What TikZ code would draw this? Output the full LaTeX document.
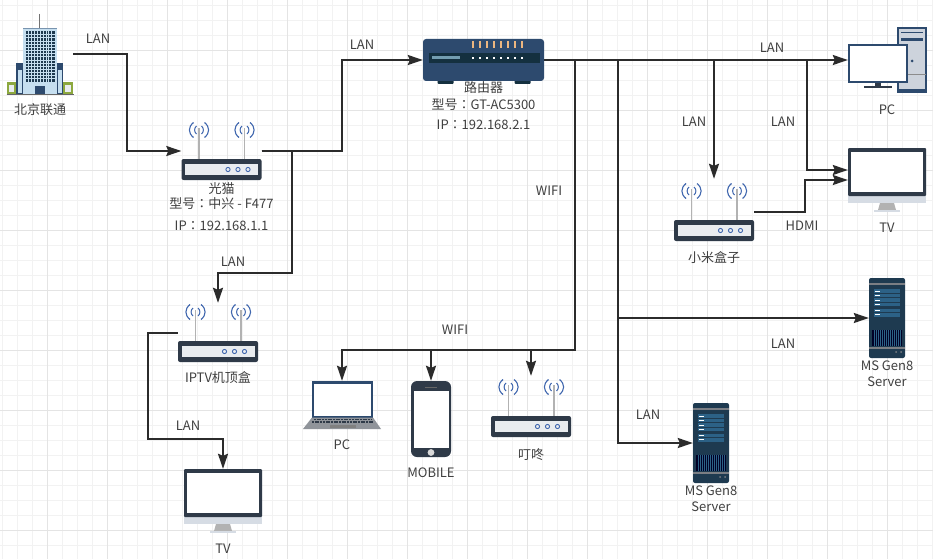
\documentclass[tikz,border=0pt]{standalone}
\usepackage{fontspec}
\setmainfont{Noto Sans CJK SC}
\newfontfamily\colonfont{Noto Sans CJK TC}
\newcommand{\fullcolon}{{\colonfont：}}
\usetikzlibrary{arrows.meta, positioning}
\definecolor{gridminor}{HTML}{F2F2F2}
\definecolor{gridmajor}{HTML}{E4E4E4}
\definecolor{wire}{HTML}{2B2B2B}
\definecolor{textgrey}{HTML}{404040}
\definecolor{shell}{HTML}{2F3A48}
\definecolor{panel}{HTML}{E9ECEF}
\definecolor{wave}{HTML}{3F66AE}
\definecolor{navy}{HTML}{2D4A6E}
\definecolor{deep}{HTML}{14303F}
\definecolor{srv}{HTML}{1E3A50}
\definecolor{srvrow}{HTML}{2C6186}
\definecolor{steel}{HTML}{CDD3DC}
\definecolor{chin}{HTML}{D6DCE4}
\definecolor{glass}{HTML}{C6DFF0}
\definecolor{olive}{HTML}{8CA83E}
\tikzset{
    dev/.style 2 args={minimum width=#1, minimum height=#2, inner sep=0pt},
    capt/.style={inner sep=0pt, align=center, text=textgrey, font=\fontsize{13}{16}\selectfont},
    wires/.style={draw=wire, line width=1.8pt, ->},
    waves/.pic={
        \draw[wave, line width=1.1pt] (-5.5,-7.5) .. controls (-11,-3) and (-11,3) .. (-5.5,7.5);
        \draw[wave, line width=1.1pt] (5.5,-7.5) .. controls (11,-3) and (11,3) .. (5.5,7.5);
        \draw[wave, line width=1pt] (-2.5,-4) .. controls (-5,-2) and (-5,2) .. (-2.5,4);
        \draw[wave, line width=1pt] (2.5,-4) .. controls (5,-2) and (5,2) .. (2.5,4);
    },
    wifibox/.pic={
        \pic at (-22.5,-21) {waves};
        \pic at (23,-21) {waves};
        \draw[black!30, line width=1.1pt] (-22.5,-23) -- (-22.5,9);
        \draw[black!30, line width=1.1pt] (23,-23) -- (23,9);
        \fill[shell, rounded corners=2pt] (-40,8) rectangle (40,29);
        \fill[panel] (-36.5,13) rectangle (36.5,24);
        \foreach \dx in {6.5,16.5,26.5}
            \draw[wave, line width=.9pt] (\dx,18.5) circle (2.1);
    },
    routerbox/.pic={
        \fill[deep, rounded corners=1pt] (-46,18) rectangle (-30,24);
        \fill[deep, rounded corners=1pt] (31,18) rectangle (47,24);
        \fill[navy, rounded corners=3pt] (-60.5,-21) rectangle (60.5,21);
        \fill[deep] (-55,-7) rectangle (56,3);
        \fill[black!10!cyan!40!gray] (-52,-3.5) rectangle (-24,-1);
        \foreach \i in {0,...,7} {
            \fill[white] (-11.5+7*\i,-3) rectangle ++(1.7,1.7);
            \fill[orange!50!white!85!gray] (-12+7*\i,-19) rectangle ++(2.4,7);
        }
    },
    buildingbox/.pic={
        \draw[black!55, line width=1pt] (-1,-40) -- (-1,-25);
        \fill[olive] (-33,28) rectangle (-24,40);
        \fill[olive] (23,28) rectangle (33,40);
        \fill[panel] (-31,31) rectangle (-26,38);
        \fill[panel] (25,31) rectangle (31,38);
        \fill[navy] (-24,9) rectangle (-17,40);
        \fill[navy] (17,9) rectangle (23,40);
        \fill[glass] (-22.5,16) rectangle (-18,39);
        \fill[glass] (18,16) rectangle (22,39);
        \fill[glass] (-17,-25) rectangle (17,40);
        \fill[navy!50!glass] (-17,-26) rectangle (17,-24.5);
        \fill[srv] (-14.5,-22.5) rectangle (14.5,28);
        \foreach \u in {1,...,9}
            \draw[glass, line width=.6pt] (-14.5+2.9*\u,-22.5) -- ++(0,50.5);
        \foreach \v in {1,...,15}
            \draw[glass, line width=.6pt] (-14.5,-22.5+3.15*\v) -- ++(29,0);
        \fill[navy] (-5,32) rectangle (5,40);
        \draw[black!60, line width=.8pt] (-33.5,40.2) -- (33.5,40.2);
    },
    pcbox/.pic={
        \fill[steel] (11,-32) rectangle (39,32);
        \draw[navy, line width=1.3pt] (11,-32) rectangle (39,32);
        \fill[navy] (11,29) rectangle (39,32);
        \fill[navy] (14,-28) rectangle (36,-26.5);
        \fill[navy] (14,-22) rectangle (36,-18.5);
        \fill[navy] (25,1) circle (1.5);
        \draw[black!45, line width=.6pt] (11,14) -- (39,14);
        \fill[shell] (-12,22) rectangle (-6,27);
        \fill[shell] (-23,26.5) rectangle (5,28);
        \fill[white] (-38,-15) rectangle (20,22);
        \draw[navy, line width=1.3pt] (-38,-15) rectangle (20,22);
    },
    tvbox/.pic={
        \fill[chin] (-39,14) rectangle (39,23);
        \fill[shell, rounded corners=1pt] (-39,-32) rectangle (39,16);
        \fill[white] (-36,-28) rectangle (36,12);
        \fill[black!30] (-7,23) -- (7,23) -- (9,30) -- (-9,30) -- cycle;
        \fill[chin] (-13,30) rectangle (13,32);
    },
    laptopbox/.pic={
        \fill[white] (-29,-24) rectangle (30,12);
        \draw[navy, line width=1.2pt] (-29,-23) rectangle (30,12);
        \fill[navy] (-30,-24) rectangle (31,-21.5);
        \fill[black!30!steel] (-30,12.5) -- (31,12.5) -- (39,24) -- (-39,24) -- cycle;
        \draw[shell, line width=1.6pt, dash pattern=on 2pt off .7pt] (-28,14.5) -- (29,14.5);
        \draw[shell, line width=1.6pt, dash pattern=on 2pt off .7pt] (-30,17) -- (31,17);
        \fill[black!50] (-12,19.5) rectangle (14,23);
    },
    phonebox/.pic={
        \fill[shell, rounded corners=6pt] (-20,-38) rectangle (20,38);
        \fill[white] (-17.5,-28) rectangle (17.5,29);
        \fill[black!60] (-6,-32.5) rectangle (6,-31.5);
        \fill[black!15] (0,33.5) circle (3.4);
    },
    serverbox/.pic={
        \fill[srv, rounded corners=2pt] (-18,-40) rectangle (18,40);
        \fill[black!40!steel] (-18,-35) rectangle (18,-33.5);
        \fill[black!40!steel] (-18,29) rectangle (18,30.5);
        \foreach \ry in {-29,-24.5,-20,-15.5,-9.5,-5}
            \fill[srvrow] (-13,\ry) rectangle (13,\ry+3.6);
        \foreach \ry in {-27.5,-23,-18,-14,-8,-4}
            \fill[white] (-12,\ry) rectangle (-7,\ry+1);
        \fill[black!85!blue] (-15,12) rectangle (15,28);
        \foreach \u in {1,...,14}
            \draw[srvrow, line width=.4pt] (-15+2*\u,12) -- ++(0,16);
        \fill[black!40!steel] (9,34) circle (1);
        \fill[black!40!steel] (14,34) circle (1);
    },
}
\begin{document}
\begin{tikzpicture}[x=1pt,y=-1pt,>={Stealth[length=15pt,width=10pt,inset=2pt]}]
    \fill[white] (0,0) rectangle (933,559);
    \useasboundingbox (0,0) rectangle (933,559);
    % grid
    \foreach \gx in {2,17,...,932} \draw[gridminor, line width=.6pt] (\gx,0) -- (\gx,559);
    \foreach \gy in {5,20,...,545} \draw[gridminor, line width=.6pt] (0,\gy) -- (933,\gy);
    \foreach \gx in {47,107,...,887} \draw[gridmajor, line width=.7pt] (\gx,0) -- (\gx,559);
    \foreach \gy in {50,110,...,530} \draw[gridmajor, line width=.7pt] (0,\gy) -- (933,\gy);
    % devices
    \node[dev={66pt}{82pt}] (beijing) at (40,54) {};
    \node[dev={80pt}{60pt}] (modem) at (221.5,151) {};
    \node[dev={80pt}{60pt}] (iptv) at (218,333) {};
    \node[dev={121pt}{42pt}] (router) at (483.5,60) {};
    \node[dev={80pt}{60pt}] (mibox) at (714,212) {};
    \node[dev={80pt}{60pt}] (dingdong) at (531,408) {};
    \node[dev={78pt}{64pt}] (pc) at (887,60) {};
    \node[dev={78pt}{64pt}] (tvr) at (887,180) {};
    \node[dev={78pt}{64pt}] (tvl) at (223,501) {};
    \node[dev={78pt}{48pt}] (laptop) at (342,405) {};
    \node[dev={40pt}{76pt}] (phone) at (431,419) {};
    \node[dev={36pt}{80pt}] (srvr) at (887,318) {};
    \node[dev={36pt}{80pt}] (srvb) at (711,443) {};
    \pic at (beijing) {buildingbox};
    \foreach \n in {modem,iptv,mibox,dingdong} \pic at (\n) {wifibox};
    \pic at (router) {routerbox};
    \pic at (pc) {pcbox};
    \foreach \n in {tvr,tvl} \pic at (\n) {tvbox};
    \pic at (laptop) {laptopbox};
    \pic at (phone) {phonebox};
    \foreach \n in {srvr,srvb} \pic at (\n) {serverbox};
    % captions
    \node[capt] (beijingt) [below=8.5pt of beijing] {北京联通};
    \node[capt] (modemt) [below=1pt of modem] {光猫};
    \node[capt] (modemm) [below=2.5pt of modemt] {型号\fullcolon 中兴 - F477};
    \node[capt] (modemi) [below=11pt of modemm] {IP\fullcolon 192.168.1.1};
    \node[capt] (iptvt) [below=8.5pt of iptv] {IPTV机顶盒};
    \node[capt] (routert) [below=.5pt of router] {路由器};
    \node[capt] (routerm) [below=4pt of routert] {型号\fullcolon GT-AC5300};
    \node[capt] (routeri) [below=9pt of routerm] {IP\fullcolon 192.168.2.1};
    \node[capt] (miboxt) [below=9.5pt of mibox] {小米盒子};
    \node[capt] (dingdongt) [below=10.5pt of dingdong] {叮咚};
    \node[capt] (pct) [below=12pt of pc] {PC};
    \node[capt] (tvrt) [below=11pt of tvr] {TV};
    \node[capt] (tvlt) [below=11pt of tvl] {TV};
    \node[capt] (laptopt) [below=10pt of laptop] {PC};
    \node[capt] (phonet) [below=10pt of phone] {MOBILE};
    \node[capt] (srvrt) [below=2pt of srvr] {MS Gen8\\Server};
    \node[capt] (srvbt) [below=2pt of srvb] {MS Gen8\\Server};
    % wire bends
    \coordinate (bendb) at (127,100);
    \coordinate (bendr) at (342,100);
    \coordinate (bendi) at (292,273);
    \coordinate (bendt) at (148,439);
    \coordinate (bendh) at (805,200);
    \coordinate (wifit) at (575,60);
    \coordinate (wifib) at (575,350);
    \coordinate (lant) at (618,60);
    \coordinate (lanv) at (807,60);
    % wires
    \draw[wires] (beijing.east) -| (bendb) |- (modem.west);
    \draw[wires] (modem.east) -| (bendr) |- (router.west);
    \draw[wires] (modem.east) -| (bendi) -| (iptv.north);
    \draw[wires] (iptv.west) -| (bendt) -| (tvl.north);
    \draw[wires] (router.east) -- (pc.west);
    \draw[wires] (wifit) -- (wifib) -| (laptop.north);
    \draw[wires] (phone.north |- wifib) -- (phone.north);
    \draw[wires, shorten >=2pt] (dingdong.north |- wifib) -- (dingdong.north);
    \draw[wires] (lant) |- (srvr.west);
    \draw[wires] (lant) |- (srvb.west);
    \draw[wires, shorten >=3pt] (mibox.north |- pc.west) -- (mibox.north);
    \draw[wires] (lanv) |- ([yshift=10pt]tvr.west);
    \draw[wires] (mibox.east) -| (bendh) |- (tvr.west);
    % wire labels
    \node[capt] (lana) at (98,39) {LAN};
    \node[capt] (lanb) at (362,45) {LAN};
    \node[capt] (lanc) at (772,48) {LAN};
    \node[capt] (land) at (694,122) {LAN};
    \node[capt] (lane) at (783,122) {LAN};
    \node[capt] (lanf) at (233,262) {LAN};
    \node[capt] (lang) at (188,426) {LAN};
    \node[capt] (lanh) at (783,344) {LAN};
    \node[capt] (lani) at (648,415) {LAN};
    \node[capt] (wifia) at (549,191) {WIFI};
    \node[capt] (wific) at (455,330) {WIFI};
    \node[capt] (hdmi) at (802,226) {HDMI};
\end{tikzpicture}
\end{document}
